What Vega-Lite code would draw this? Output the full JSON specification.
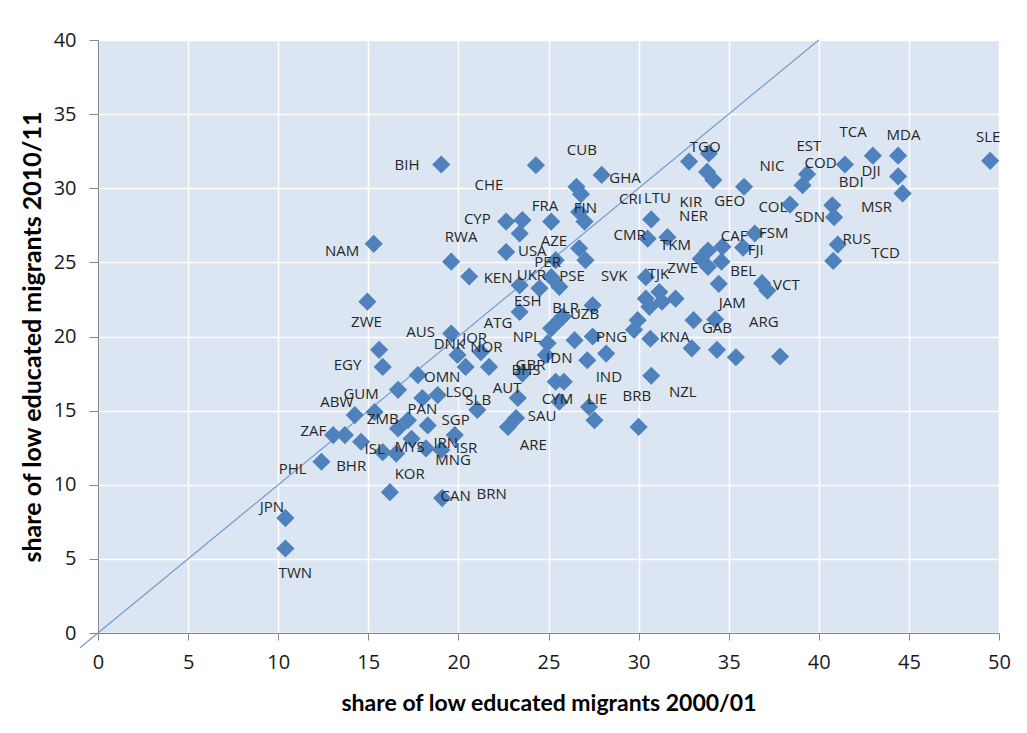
{
  "$schema": "https://vega.github.io/schema/vega-lite/v6.json",
  "width": 901,
  "height": 593,
  "autosize": "none",
  "padding": {"left": 98, "top": 40, "right": 28, "bottom": 100},
  "background": "white",
  "config": {
    "view": {"fill": "#dce6f2", "stroke": null},
    "axis": {
      "grid": true,
      "gridColor": "#ffffff",
      "gridWidth": 1.5,
      "domainColor": "#868686",
      "tickColor": "#868686",
      "labelFont": "Open Sans",
      "labelFontSize": 20,
      "labelColor": "#1a1a1a",
      "labelOverlap": false,
      "labelFlush": false,
      "titleFont": "Lato",
      "titleFontWeight": "bold",
      "titleColor": "#000000"
    }
  },
  "encoding": {
    "x": {
      "field": "a",
      "type": "quantitative",
      "scale": {"domain": [0, 50], "nice": false, "zero": false},
      "axis": {
        "values": [0, 5, 10, 15, 20, 25, 30, 35, 40, 45, 50],
        "tickSize": 7,
        "labelPadding": 12,
        "title": "share of low educated migrants 2000/01",
        "titleFontSize": 23,
        "titlePadding": 20
      }
    },
    "y": {
      "field": "b",
      "type": "quantitative",
      "scale": {"domain": [0, 40], "nice": false, "zero": false},
      "axis": {
        "values": [0, 5, 10, 15, 20, 25, 30, 35, 40],
        "tickSize": 9,
        "labelPadding": 13,
        "title": "share of low educated migrants 2010/11",
        "titleFontSize": 25,
        "titlePadding": 8
      }
    }
  },
  "layer": [
    {
      "data": {"values": [{"a": -1, "b": -1, "a2": 40, "b2": 40}]},
      "mark": {"type": "rule", "color": "#6f9ad0", "strokeWidth": 1.2, "clip": false},
      "encoding": {"x2": {"field": "a2"}, "y2": {"field": "b2"}}
    },
    {
      "data": {"values": [
        {"a": 49.51, "b": 31.85}, {"a": 44.4, "b": 32.2}, {"a": 44.4, "b": 30.8}, {"a": 44.65, "b": 29.65},
        {"a": 43.0, "b": 32.2}, {"a": 41.45, "b": 31.6}, {"a": 39.35, "b": 30.95}, {"a": 39.1, "b": 30.2},
        {"a": 35.85, "b": 30.1}, {"a": 38.4, "b": 28.9}, {"a": 40.75, "b": 28.85}, {"a": 40.85, "b": 28.05},
        {"a": 36.45, "b": 26.95}, {"a": 35.8, "b": 26.0}, {"a": 41.05, "b": 26.2}, {"a": 40.8, "b": 25.1},
        {"a": 33.85, "b": 25.8}, {"a": 34.65, "b": 26.05}, {"a": 34.6, "b": 25.05}, {"a": 33.85, "b": 24.7},
        {"a": 36.85, "b": 23.6}, {"a": 37.15, "b": 23.1}, {"a": 34.45, "b": 23.55}, {"a": 33.45, "b": 25.25},
        {"a": 32.8, "b": 31.8}, {"a": 33.9, "b": 32.35}, {"a": 33.8, "b": 31.1}, {"a": 34.15, "b": 30.55},
        {"a": 34.25, "b": 21.15}, {"a": 34.35, "b": 19.1}, {"a": 35.4, "b": 18.6}, {"a": 37.85, "b": 18.65},
        {"a": 33.05, "b": 21.1}, {"a": 32.95, "b": 19.2}, {"a": 30.65, "b": 19.85}, {"a": 30.7, "b": 17.35},
        {"a": 29.95, "b": 21.1}, {"a": 29.75, "b": 20.45}, {"a": 30.4, "b": 24.0}, {"a": 31.15, "b": 23.0},
        {"a": 32.05, "b": 22.55}, {"a": 30.4, "b": 22.55}, {"a": 30.6, "b": 22.0}, {"a": 31.3, "b": 22.35},
        {"a": 30.5, "b": 26.6}, {"a": 31.6, "b": 26.7}, {"a": 30.7, "b": 27.9}, {"a": 28.2, "b": 18.85},
        {"a": 27.45, "b": 22.1}, {"a": 25.8, "b": 21.35}, {"a": 27.45, "b": 20.0}, {"a": 26.45, "b": 19.75},
        {"a": 27.15, "b": 18.4}, {"a": 25.15, "b": 20.55}, {"a": 25.6, "b": 21.1}, {"a": 24.95, "b": 19.55},
        {"a": 24.85, "b": 18.75}, {"a": 25.4, "b": 16.95}, {"a": 25.85, "b": 16.95}, {"a": 23.3, "b": 15.85},
        {"a": 25.6, "b": 15.6}, {"a": 27.25, "b": 15.25}, {"a": 27.55, "b": 14.35}, {"a": 30.0, "b": 13.9},
        {"a": 23.2, "b": 14.5}, {"a": 22.75, "b": 13.9}, {"a": 21.05, "b": 15.05}, {"a": 23.55, "b": 17.5},
        {"a": 21.7, "b": 17.95}, {"a": 21.25, "b": 18.95}, {"a": 20.4, "b": 17.95}, {"a": 19.95, "b": 18.75},
        {"a": 19.6, "b": 20.2}, {"a": 23.4, "b": 21.65}, {"a": 24.5, "b": 23.25}, {"a": 23.4, "b": 23.45},
        {"a": 25.15, "b": 24.0}, {"a": 25.6, "b": 23.35}, {"a": 25.4, "b": 25.15}, {"a": 27.05, "b": 25.15},
        {"a": 26.7, "b": 25.95}, {"a": 22.65, "b": 25.7}, {"a": 22.65, "b": 27.75}, {"a": 23.55, "b": 27.85},
        {"a": 23.4, "b": 26.95}, {"a": 25.15, "b": 27.75}, {"a": 26.7, "b": 28.4}, {"a": 27.0, "b": 27.75},
        {"a": 26.55, "b": 30.1}, {"a": 26.8, "b": 29.6}, {"a": 27.95, "b": 30.9}, {"a": 24.3, "b": 31.55},
        {"a": 19.05, "b": 31.6}, {"a": 15.3, "b": 26.25}, {"a": 19.6, "b": 25.05}, {"a": 20.6, "b": 24.05},
        {"a": 14.95, "b": 22.35}, {"a": 15.6, "b": 19.1}, {"a": 15.8, "b": 17.95}, {"a": 17.75, "b": 17.4},
        {"a": 16.65, "b": 16.4}, {"a": 18.0, "b": 15.85}, {"a": 18.85, "b": 16.05}, {"a": 14.25, "b": 14.7},
        {"a": 15.35, "b": 14.9}, {"a": 17.2, "b": 14.35}, {"a": 16.65, "b": 13.8}, {"a": 18.3, "b": 14.0},
        {"a": 19.8, "b": 13.35}, {"a": 13.05, "b": 13.35}, {"a": 13.7, "b": 13.35}, {"a": 14.6, "b": 12.9},
        {"a": 15.8, "b": 12.2}, {"a": 16.55, "b": 12.1}, {"a": 17.4, "b": 13.1}, {"a": 18.2, "b": 12.45},
        {"a": 19.05, "b": 12.35}, {"a": 12.4, "b": 11.55}, {"a": 16.2, "b": 9.5}, {"a": 19.1, "b": 9.1},
        {"a": 10.4, "b": 7.75}, {"a": 10.4, "b": 5.7}
      ]},
      "mark": {"type": "point", "shape": "diamond", "filled": true, "size": 330, "color": "#4f81bd", "opacity": 1}
    },
    {
      "data": {"values": [
        {"code": "SLE", "a": 49.4, "b": 33.45}, {"code": "MDA", "a": 44.7, "b": 33.6}, {"code": "TCA", "a": 41.9, "b": 33.8},
        {"code": "EST", "a": 39.45, "b": 32.85}, {"code": "COD", "a": 40.1, "b": 31.7}, {"code": "DJI", "a": 42.9, "b": 31.15},
        {"code": "BDI", "a": 41.8, "b": 30.4}, {"code": "NIC", "a": 37.4, "b": 31.5}, {"code": "GEO", "a": 35.05, "b": 29.15},
        {"code": "COL", "a": 37.45, "b": 28.75}, {"code": "SDN", "a": 39.5, "b": 28.05}, {"code": "MSR", "a": 43.2, "b": 28.75},
        {"code": "CAF", "a": 35.3, "b": 26.75}, {"code": "FSM", "a": 37.5, "b": 26.95}, {"code": "FJI", "a": 36.5, "b": 25.85},
        {"code": "RUS", "a": 42.1, "b": 26.6}, {"code": "TCD", "a": 43.7, "b": 25.65}, {"code": "BEL", "a": 35.8, "b": 24.4},
        {"code": "VCT", "a": 38.2, "b": 23.45}, {"code": "JAM", "a": 35.2, "b": 22.25}, {"code": "ARG", "a": 36.95, "b": 21.0},
        {"code": "GAB", "a": 34.35, "b": 20.55}, {"code": "TGO", "a": 33.7, "b": 32.75}, {"code": "KIR", "a": 32.9, "b": 29.1},
        {"code": "NER", "a": 33.05, "b": 28.1}, {"code": "CUB", "a": 26.85, "b": 32.55}, {"code": "GHA", "a": 29.25, "b": 30.7},
        {"code": "CHE", "a": 21.7, "b": 30.2}, {"code": "CRI", "a": 29.55, "b": 29.25}, {"code": "LTU", "a": 31.05, "b": 29.35},
        {"code": "FRA", "a": 24.8, "b": 28.8}, {"code": "FIN", "a": 27.05, "b": 28.7}, {"code": "CMR", "a": 29.5, "b": 26.85},
        {"code": "TKM", "a": 32.05, "b": 26.15}, {"code": "AZE", "a": 25.3, "b": 26.45}, {"code": "USA", "a": 24.1, "b": 25.8},
        {"code": "PER", "a": 24.95, "b": 25.0}, {"code": "KEN", "a": 22.2, "b": 23.95}, {"code": "UKR", "a": 24.05, "b": 24.15},
        {"code": "PSE", "a": 26.3, "b": 24.1}, {"code": "SVK", "a": 28.65, "b": 24.1}, {"code": "TJK", "a": 31.1, "b": 24.2},
        {"code": "ZWE", "a": 32.45, "b": 24.6}, {"code": "ESH", "a": 23.85, "b": 22.4}, {"code": "BLR", "a": 25.95, "b": 21.9},
        {"code": "UZB", "a": 27.0, "b": 21.55}, {"code": "ATG", "a": 22.2, "b": 20.9}, {"code": "CYP", "a": 21.05, "b": 27.9},
        {"code": "RWA", "a": 20.15, "b": 26.7}, {"code": "NAM", "a": 13.55, "b": 25.8}, {"code": "BIH", "a": 17.15, "b": 31.55},
        {"code": "ZWE", "a": 14.9, "b": 20.95}, {"code": "AUS", "a": 17.9, "b": 20.3}, {"code": "DNK", "a": 19.5, "b": 19.5},
        {"code": "JOR", "a": 20.9, "b": 19.9}, {"code": "NOR", "a": 21.55, "b": 19.3}, {"code": "NPL", "a": 23.8, "b": 19.95},
        {"code": "EGY", "a": 13.85, "b": 18.05}, {"code": "OMN", "a": 19.1, "b": 17.25}, {"code": "GBR", "a": 24.0, "b": 18.05},
        {"code": "IDN", "a": 25.6, "b": 18.55}, {"code": "BHS", "a": 23.75, "b": 17.75}, {"code": "PNG", "a": 28.5, "b": 19.95},
        {"code": "KNA", "a": 32.0, "b": 19.95}, {"code": "IND", "a": 28.35, "b": 17.25}, {"code": "LSO", "a": 20.05, "b": 16.25},
        {"code": "GUM", "a": 14.6, "b": 16.1}, {"code": "AUT", "a": 22.7, "b": 16.5}, {"code": "BRB", "a": 29.9, "b": 16.0},
        {"code": "NZL", "a": 32.45, "b": 16.25}, {"code": "ABW", "a": 13.25, "b": 15.6}, {"code": "PAN", "a": 18.0, "b": 15.1},
        {"code": "SLB", "a": 21.1, "b": 15.7}, {"code": "CYM", "a": 25.5, "b": 15.8}, {"code": "LIE", "a": 27.7, "b": 15.8},
        {"code": "SGP", "a": 19.85, "b": 14.35}, {"code": "ZMB", "a": 15.8, "b": 14.45}, {"code": "SAU", "a": 24.65, "b": 14.65},
        {"code": "ZAF", "a": 11.95, "b": 13.6}, {"code": "IRN", "a": 19.3, "b": 12.8}, {"code": "ISL", "a": 15.35, "b": 12.4},
        {"code": "MYS", "a": 17.3, "b": 12.55}, {"code": "ISR", "a": 20.45, "b": 12.5}, {"code": "MNG", "a": 19.7, "b": 11.65},
        {"code": "ARE", "a": 24.15, "b": 12.7}, {"code": "PHL", "a": 10.8, "b": 11.05}, {"code": "BHR", "a": 14.05, "b": 11.25},
        {"code": "KOR", "a": 17.3, "b": 10.7}, {"code": "CAN", "a": 19.85, "b": 9.25}, {"code": "BRN", "a": 21.85, "b": 9.35},
        {"code": "JPN", "a": 9.65, "b": 8.5}, {"code": "TWN", "a": 10.95, "b": 4.05}
      ]},
      "mark": {"type": "text", "font": "Open Sans", "fontSize": 15, "color": "#262626", "align": "center", "baseline": "middle"},
      "encoding": {"text": {"field": "code", "type": "nominal"}}
    }
  ]
}
